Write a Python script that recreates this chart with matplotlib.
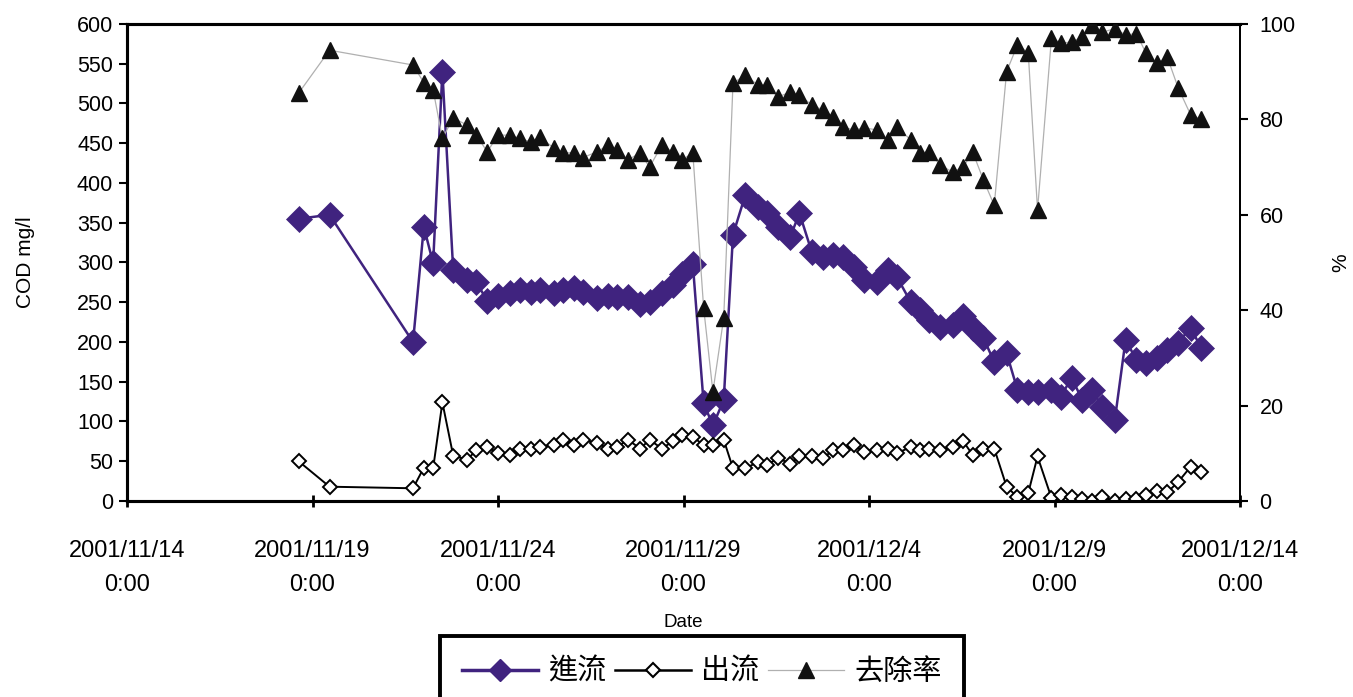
import matplotlib
matplotlib.use("Agg")
import matplotlib.pyplot as plt
import pandas as pd
from matplotlib.lines import Line2D

plt.rcParams['font.family'] = ['Liberation Sans', 'Noto Sans CJK TC', 'DejaVu Sans']

# ---- data ----
times = [
    "2001-11-18 15:00", "2001-11-19 11:00", "2001-11-21 17:00", "2001-11-22 00:00",
    "2001-11-22 06:00", "2001-11-22 12:00", "2001-11-22 19:00", "2001-11-23 04:00",
    "2001-11-23 10:00", "2001-11-23 17:00", "2001-11-24 00:00", "2001-11-24 08:00",
    "2001-11-24 14:00", "2001-11-24 21:00", "2001-11-25 03:00", "2001-11-25 12:00",
    "2001-11-25 18:00", "2001-11-26 01:00", "2001-11-26 07:00", "2001-11-26 16:00",
    "2001-11-26 23:00", "2001-11-27 05:00", "2001-11-27 12:00", "2001-11-27 20:00",
    "2001-11-28 02:00", "2001-11-28 10:00", "2001-11-28 17:00", "2001-11-28 23:00",
    "2001-11-29 06:00", "2001-11-29 13:00", "2001-11-29 19:00", "2001-11-30 02:00",
    "2001-11-30 08:00", "2001-11-30 16:00", "2001-12-01 00:00", "2001-12-01 06:00",
    "2001-12-01 13:00", "2001-12-01 21:00", "2001-12-02 03:00", "2001-12-02 11:00",
    "2001-12-02 18:00", "2001-12-03 01:00", "2001-12-03 07:00", "2001-12-03 14:00",
    "2001-12-03 21:00", "2001-12-04 05:00", "2001-12-04 12:00", "2001-12-04 18:00",
    "2001-12-05 03:00", "2001-12-05 09:00", "2001-12-05 15:00", "2001-12-05 22:00",
    "2001-12-06 06:00", "2001-12-06 13:00", "2001-12-06 19:00", "2001-12-07 02:00",
    "2001-12-07 09:00", "2001-12-07 17:00", "2001-12-08 00:00", "2001-12-08 07:00",
    "2001-12-08 13:00", "2001-12-08 22:00", "2001-12-09 04:00", "2001-12-09 11:00",
    "2001-12-09 18:00", "2001-12-10 00:00", "2001-12-10 07:00", "2001-12-10 15:00",
    "2001-12-10 22:00", "2001-12-11 05:00", "2001-12-11 11:00", "2001-12-11 18:00",
    "2001-12-12 01:00", "2001-12-12 08:00", "2001-12-12 16:00", "2001-12-12 23:00",
]

influent = [
    355, 360, 200, 345, 299, 540, 290, 278, 275, 252, 258, 262, 265, 263, 265, 262,
    265, 268, 263, 255, 258, 257, 256, 248, 250, 262, 272, 285, 298, 123, 95, 127,
    335, 385, 370, 362, 345, 332, 362, 313, 307, 309, 307, 294, 278, 276, 291, 282,
    250, 240, 228, 219, 222, 233, 218, 205, 175, 186, 140, 137, 137, 140, 131, 155,
    127, 140, 118, 102, 203, 177, 173, 180, 190, 199, 218, 192,
]

effluent = [
    50, 18, 16, 42, 41, 124, 57, 52, 64, 68, 60, 58, 66, 66, 68, 70,
    77, 70, 77, 73, 66, 68, 77, 66, 77, 66, 75, 83, 81, 70, 70, 77,
    41, 41, 49, 45, 54, 47, 56, 56, 54, 64, 64, 70, 62, 64, 66, 60,
    68, 64, 66, 64, 68, 75, 58, 66, 66, 18, 5, 10, 56, 4, 8, 5,
    3, 0, 5, 0, 3, 3, 8, 12, 11, 24, 43, 37,
]

removal = [
    85.5, 94.5, 91.4, 87.7, 86.2, 76.0, 80.3, 78.8, 76.7, 73.2, 76.7, 76.7, 76.0, 75.3, 76.3, 74.0,
    73.0, 73.0, 72.0, 73.2, 74.6, 73.6, 71.5, 73.0, 70.0, 74.6, 73.2, 71.5, 73.0, 40.5, 22.9, 38.4,
    87.6, 89.3, 87.2, 87.2, 84.7, 85.7, 85.1, 83.0, 82.0, 80.5, 78.4, 77.8, 78.2, 77.8, 75.7, 78.4,
    75.7, 73.0, 73.2, 70.4, 69.0, 70.0, 73.2, 67.3, 62.0, 90.0, 95.6, 94.0, 61.0, 97.0, 96.0, 96.2,
    97.3, 99.8, 98.3, 99.0, 97.7, 98.0, 94.0, 91.8, 93.0, 86.6, 81.0, 80.0,
]

tick_dates = ["2001-11-14", "2001-11-19", "2001-11-24", "2001-11-29",
              "2001-12-04", "2001-12-09", "2001-12-14"]
left_ticks = list(range(0, 601, 50))
right_ticks = list(range(0, 101, 20))
series_names = ["進流", "出流", "去除率"]

# ---- plotting ----
t = pd.to_datetime(times)
ticks = pd.to_datetime(tick_dates)

fig = plt.figure(figsize=(13.53, 6.97), dpi=100)
ax = fig.add_axes([0.0939, 0.2812, 0.8226, 0.6844])
ax2 = ax.twinx()

purple = '#40237f'
ax.plot(t, influent, color=purple, lw=1.8, marker='D', ms=13.5, mfc=purple,
        mec=purple, mew=0.5, label=series_names[0], zorder=3)
ax.plot(t, effluent, color='black', lw=1.4, marker='D', ms=6.8, mfc='white',
        mec='black', mew=1.4, label=series_names[1], zorder=4)
ax2.plot(t, removal, color='#b0b0b0', lw=0.9, marker='^', ms=11.5, mfc='#111111',
         mec='#111111', label=series_names[2], zorder=5)

ax.set_xlim(ticks[0], ticks[-1])
ax.set_ylim(0, 600)
ax2.set_ylim(0, 100)
ax.set_xticks(ticks)
ax.set_xticklabels([f"{d.year}/{d.month}/{d.day}\n0:00" for d in ticks],
                   fontsize=17, linespacing=1.7)
ax.set_yticks(left_ticks)
ax.set_yticklabels([str(v) for v in left_ticks], fontsize=15.5)
ax2.set_yticks(right_ticks)
ax2.set_yticklabels([str(v) for v in right_ticks], fontsize=15.5)

ax.tick_params(axis='x', direction='inout', length=8, width=2, pad=24)
ax.tick_params(axis='y', direction='out', length=6, width=1.5, pad=4)
ax2.tick_params(axis='y', direction='out', length=6, width=1.5, pad=8)

for a in (ax, ax2):
    for side in ('left', 'bottom', 'top'):
        a.spines[side].set_linewidth(2.2)
    a.spines['right'].set_linewidth(1.3)

ax.set_ylabel("COD mg/l", fontsize=15, labelpad=30)
ax2.set_ylabel("%", fontsize=15, labelpad=26)
ax.set_xlabel("Date", fontsize=13.5, labelpad=13)

handles = [
    Line2D([], [], color=purple, lw=2.5, marker='D', ms=11, mfc=purple, mec=purple),
    Line2D([], [], color='black', lw=1.8, marker='D', ms=7, mfc='white', mec='black', mew=1.5),
    Line2D([], [], color='#b0b0b0', lw=0.9, marker='^', ms=11, mfc='#111111', mec='#111111'),
]
leg = fig.legend(handles, series_names, loc='upper center',
                 bbox_to_anchor=(0.5189, 0.0875), bbox_transform=fig.transFigure,
                 ncol=3, fontsize=21, frameon=True, fancybox=False,
                 edgecolor='black', framealpha=1, handlelength=2.6, handletextpad=0.35,
                 columnspacing=0.3, borderpad=0.75, borderaxespad=0)
leg.get_frame().set_linewidth(2.8)
leg.get_frame().set_edgecolor('black')

fig.savefig("out.png", dpi=100, facecolor='white')
